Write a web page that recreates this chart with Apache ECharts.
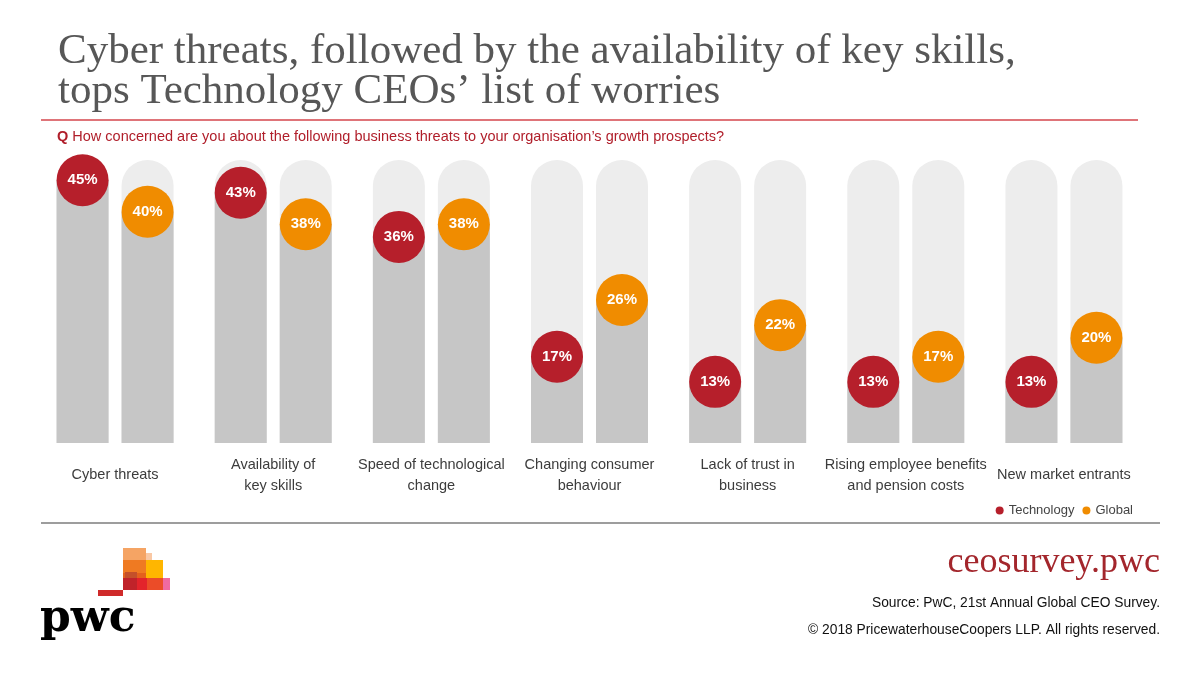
<!DOCTYPE html>
<html>
<head>
<meta charset="utf-8">
<title>Technology CEOs - business threats</title>
<script src="https://cdn.jsdelivr.net/npm/echarts@6/dist/echarts.min.js"></script>
<style>
	html, body { margin: 0; padding: 0; background: #fff; }
	#chart { width: 1200px; height: 675px; }
</style>
</head>
<body>
<div id="chart"></div>
<script type="text/javascript">
	var categories = [
		'Cyber threats',
		'Availability of\nkey skills',
		'Speed of technological\nchange',
		'Changing consumer\nbehaviour',
		'Lack of trust in\nbusiness',
		'Rising employee benefits\nand pension costs',
		'New market entrants'
	];
	var techValues = [45, 43, 36, 17, 13, 13, 13];
	var globalValues = [40, 38, 38, 26, 22, 17, 20];
	var seriesNames = ['Technology', 'Global'];

	var RED = '#b61f2b';
	var ORANGE = '#f08c00';
	var SANS = "'Liberation Sans', Arial, sans-serif";
	var SERIF = "'Liberation Serif', 'Times New Roman', serif";

	// bubble label sitting on the top of each bar
	function bubble(color) {
		return {
			show: true,
			position: ['50%', 0],
			align: 'center',
			verticalAlign: 'middle',
			formatter: '{c}%',
			backgroundColor: color,
			width: 52,
			height: 52,
			lineHeight: 52,
			borderRadius: 26,
			color: '#fff',
			fontFamily: SANS,
			fontWeight: 'bold',
			fontSize: 15
		};
	}

	function barSeries(name, values, color) {
		return {
			name: name,
			type: 'bar',
			data: values,
			barWidth: 52,
			barGap: '25%',
			clip: true,
			itemStyle: { color: '#c6c6c6' },
			showBackground: true,
			backgroundStyle: { color: '#ededed', borderRadius: [26, 26, 0, 0] },
			label: bubble(color),
			emphasis: { disabled: true }
		};
	}

	var myChart = echarts.init(document.getElementById('chart'), null, { renderer: 'canvas' });
	var option = {
		backgroundColor: '#fff',
		animation: false,
		title: [{
			text: 'Cyber threats, followed by the availability of key skills,\ntops Technology CEOs\u2019 list of worries',
			left: 53,
			top: 27,
			textStyle: {
				fontFamily: SERIF,
				fontWeight: 'normal',
				fontSize: 43,
				lineHeight: 40,
				color: '#575757'
			}
		}],
		legend: {
			right: 62,
			top: 499,
			icon: 'circle',
			itemWidth: 8,
			itemHeight: 8,
			itemGap: 8,
			textStyle: { fontFamily: SANS, fontSize: 13, color: '#444' },
			data: [
				{ name: seriesNames[0], itemStyle: { color: RED } },
				{ name: seriesNames[1], itemStyle: { color: ORANGE } }
			]
		},
		grid: { left: 36, right: 57, top: 160, bottom: 232 },
		xAxis: {
			type: 'category',
			data: categories,
			axisLine: { show: false },
			axisTick: { show: false },
			axisLabel: {
				interval: 0,
				margin: 32,
				verticalAlign: 'middle',
				fontFamily: SANS,
				fontSize: 14.5,
				lineHeight: 21,
				color: '#3c3c3c'
			}
		},
		yAxis: {
			type: 'value',
			min: 3.3,
			max: 48.2,
			show: false,
			splitLine: { show: false }
		},
		series: [
			barSeries(seriesNames[0], techValues, RED),
			barSeries(seriesNames[1], globalValues, ORANGE)
		],
		graphic: [
			// red rule under the title
			{ type: 'line', shape: { x1: 41, y1: 120, x2: 1138, y2: 120 }, style: { stroke: '#d4464d', lineWidth: 1.5 } },
			{
				type: 'text', left: 57, top: 129,
				style: {
					text: '{q|Q} How concerned are you about the following business threats to your organisation\u2019s growth prospects?',
					fill: '#b01e2a',
					font: '14.5px ' + SANS,
					rich: { q: { fontWeight: 'bold', fill: '#b01e2a', fontFamily: SANS, fontSize: 14.5 } }
				}
			},
			// grey rule above the footer
			{ type: 'line', shape: { x1: 41, y1: 523, x2: 1160, y2: 523 }, style: { stroke: '#9d9d9d', lineWidth: 2 } },
			{
				type: 'text', right: 40, top: 545,
				style: { text: 'ceosurvey.pwc', fill: '#a3262c', font: '36px ' + SERIF }
			},
			{
				type: 'text', right: 40, top: 596,
				style: { text: 'Source: PwC, 21st Annual Global CEO Survey.', fill: '#111', font: '13.8px ' + SANS }
			},
			{
				type: 'text', right: 40, top: 623,
				style: { text: '\u00a9 2018 PricewaterhouseCoopers LLP. All rights reserved.', fill: '#111', font: '13.8px ' + SANS }
			},
			// pwc logo blocks
			{ type: 'rect', shape: { x: 123, y: 548, width: 23, height: 12 }, style: { fill: '#f5a464' } },
			{ type: 'rect', shape: { x: 146, y: 553, width: 6, height: 7 }, style: { fill: '#f9c8a4' } },
			{ type: 'rect', shape: { x: 123, y: 560, width: 23, height: 13 }, style: { fill: '#ef7a22' } },
			{ type: 'rect', shape: { x: 146, y: 560, width: 17, height: 18 }, style: { fill: '#ffb600' } },
			{ type: 'rect', shape: { x: 123, y: 573, width: 23, height: 5 }, style: { fill: '#e4611c' } },
			{ type: 'rect', shape: { x: 125, y: 572, width: 12, height: 6 }, style: { fill: '#c4502a' } },
			{ type: 'rect', shape: { x: 123, y: 578, width: 14, height: 12 }, style: { fill: '#c0232a' } },
			{ type: 'rect', shape: { x: 137, y: 578, width: 10, height: 12 }, style: { fill: '#e3242b' } },
			{ type: 'rect', shape: { x: 147, y: 578, width: 16, height: 12 }, style: { fill: '#eb4c28' } },
			{ type: 'rect', shape: { x: 163, y: 578, width: 7, height: 12 }, style: { fill: '#f06aa0' } },
			{ type: 'rect', shape: { x: 98, y: 590, width: 25, height: 6 }, style: { fill: '#cf2a2a' } },
			{
				type: 'text', left: 40, top: 598,
				style: { text: 'pwc', fill: '#000', font: "bold 44px 'DejaVu Serif', serif" }
			}
		]
	};
	myChart.setOption(option);
</script>
</body>
</html>
